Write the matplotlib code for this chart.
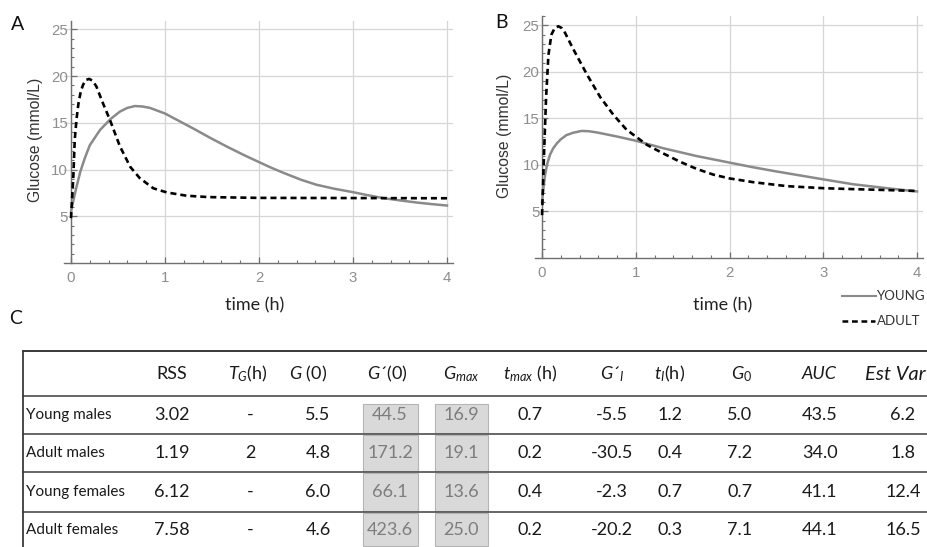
import numpy as np
import matplotlib
matplotlib.use("Agg")
import matplotlib.pyplot as plt
import matplotlib.patches as patches
from matplotlib.ticker import MultipleLocator

plt.rcParams['mathtext.fontset'] = 'custom'
plt.rcParams['mathtext.rm'] = 'Lato'
plt.rcParams['mathtext.it'] = 'Lato:italic'
plt.rcParams['mathtext.bf'] = 'Lato:bold'

# curves (time in h, glucose in mmol/L)
t_young_m = [0, 0.03, 0.06, 0.1, 0.15, 0.2, 0.31, 0.42, 0.52, 0.6, 0.68, 0.76, 0.84, 0.92, 1.0,
             1.15, 1.3, 1.48, 1.66, 1.83, 2.0, 2.13, 2.26, 2.45, 2.61, 2.8, 3.0, 3.16, 3.32, 3.5,
             3.68, 3.84, 4.0]
g_young_m = [5.5, 6.9, 8.2, 9.8, 11.3, 12.6, 14.25, 15.4, 16.2, 16.6, 16.8, 16.75, 16.6, 16.3, 16.0,
             15.2, 14.4, 13.4, 12.45, 11.6, 10.8, 10.2, 9.65, 8.9, 8.38, 7.95, 7.58, 7.25, 6.95,
             6.7, 6.47, 6.3, 6.15]
t_adult_m = [0, 0.025, 0.04, 0.06, 0.08, 0.105, 0.13, 0.16, 0.195, 0.23, 0.27, 0.34, 0.415, 0.52,
             0.63, 0.73, 0.875, 1.02, 1.23, 1.47, 2.0, 3.0, 4.0]
g_adult_m = [4.8, 9.25, 13.2, 15.5, 17.1, 18.4, 19.1, 19.6, 19.7, 19.5, 18.9, 17.1, 15.3, 12.5,
             10.3, 9.1, 8.0, 7.55, 7.2, 7.05, 6.97, 6.95, 6.93]
t_young_f = [0, 0.015, 0.032, 0.055, 0.085, 0.12, 0.157, 0.2, 0.26, 0.33, 0.42, 0.5, 0.58, 0.8,
             1.0, 1.29, 1.65, 2.0, 2.25, 2.5, 3.0, 3.32, 3.68, 4.0]
g_young_f = [6.0, 7.5, 8.9, 10.1, 11.1, 11.8, 12.3, 12.75, 13.2, 13.45, 13.65, 13.62, 13.5, 13.05,
             12.6, 11.8, 10.95, 10.25, 9.75, 9.3, 8.45, 7.92, 7.5, 7.15]
t_adult_f = [0, 0.021, 0.043, 0.068, 0.1, 0.135, 0.175, 0.21, 0.245, 0.33, 0.48, 0.62, 0.76, 0.9,
             1.0, 1.12, 1.29, 1.47, 1.65, 1.83, 2.0, 2.25, 2.61, 3.0, 3.32, 3.68, 4.0]
g_adult_f = [4.6, 11.1, 17.2, 21.8, 24.0, 24.7, 24.9, 24.7, 24.2, 22.5, 19.7, 17.3, 15.4, 13.8,
             13.05, 12.15, 11.25, 10.35, 9.57, 8.95, 8.55, 8.15, 7.72, 7.5, 7.4, 7.3, 7.2]

# table C
row_names = ["Young males", "Adult males", "Young females", "Adult females"]
headers = ["RSS", "$T_G$(h)", "$G$ (0)", "$G$\u00b4(0)", "$G_{max}$", "$t_{max}$ (h)",
           "$G$\u00b4${}_{I}$", "$t_{I}$(h)", "$G_{\\mathit{0}}$", "AUC", "Est Var"]
rss = ["3.02", "1.19", "6.12", "7.58"]
t_g = ["-", "2", "-", "-"]
g_at0 = ["5.5", "4.8", "6.0", "4.6"]
dg_at0 = ["44.5", "171.2", "66.1", "423.6"]
g_max = ["16.9", "19.1", "13.6", "25.0"]
t_max = ["0.7", "0.2", "0.4", "0.2"]
dg_i = ["-5.5", "-30.5", "-2.3", "-20.2"]
t_i = ["1.2", "0.4", "0.7", "0.3"]
g_zero = ["5.0", "7.2", "0.7", "7.1"]
auc = ["43.5", "34.0", "41.1", "44.1"]
est_var = ["6.2", "1.8", "12.4", "16.5"]
columns = [rss, t_g, g_at0, dg_at0, g_max, t_max, dg_i, t_i, g_zero, auc, est_var]

W, H = 927, 547
fig = plt.figure(figsize=(W / 100, H / 100), dpi=100)

# overlay in pixel coordinates for table, legend and labels
ov = fig.add_axes([0, 0, 1, 1])
ov.set_xlim(0, W)
ov.set_ylim(H, 0)
ov.axis('off')

calib = 'Lato'
arial = 'Liberation Sans'


def panel(rect, ty, gy, ta, ga, xlo, xhi, ytop):
    ax = fig.add_axes(rect)
    ax.plot(ty, gy, color='#8a8a8a', lw=1.8, zorder=3)
    ax.plot(ta, ga, color='black', lw=1.9, dashes=(2.3, 1.5), zorder=4)
    ax.set_xlim(xlo, xhi)
    ax.set_ylim(0, ytop)
    ax.spines['top'].set_visible(False)
    ax.spines['right'].set_visible(False)
    ax.spines['left'].set_position(('data', 0))
    for s in ['left', 'bottom']:
        ax.spines[s].set_color('#707070')
        ax.spines[s].set_linewidth(1.0)
    ax.set_xticks([0, 1, 2, 3, 4])
    ax.set_yticks([5, 10, 15, 20, 25])
    ax.xaxis.set_minor_locator(MultipleLocator(0.2))
    ax.yaxis.set_minor_locator(MultipleLocator(1))
    ax.tick_params(which='both', direction='in', color='#707070')
    ax.tick_params(which='major', length=4, width=0.9)
    ax.tick_params(which='minor', length=2, width=0.8)
    ax.tick_params(axis='x', which='major', pad=6, labelsize=10.8, labelcolor='#8e8e8e')
    ax.tick_params(axis='y', which='major', pad=2, labelsize=10.8, labelcolor='#8e8e8e')
    for lab in ax.get_xticklabels() + ax.get_yticklabels():
        lab.set_family(arial)
        lab.set_fontsize(10.8)
    ax.grid(True, which='major', color='#d6d6d6', lw=0.9)
    ax.set_axisbelow(True)
    return ax


axA = panel([64.4 / W, (H - 263) / H, 388.2 / W, 242 / H],
            t_young_m, g_young_m, t_adult_m, g_adult_m, -0.07, 4.06, 25.9)
axB = panel([535 / W, (H - 258) / H, 388 / W, 242 / H],
            t_young_f, g_young_f, t_adult_f, g_adult_f, -0.075, 4.064, 26.0)

# panel texts
ov.text(18, 24, "A", family=calib, fontsize=14, ha='center', va='center', color='#111')
ov.text(502, 22, "B", family=calib, fontsize=14, ha='center', va='center', color='#111')
ov.text(16, 318, "C", family=calib, fontsize=14, ha='center', va='center', color='#111')
ov.text(414, 43, "MALES", family=calib, fontsize=12.5, ha='center', va='center', color='#222')
ov.text(875, 40, "FEMALES", family=calib, fontsize=12.5, ha='center', va='center', color='#222')
ov.text(255, 305, "time (h)", family=calib, fontsize=13, ha='center', va='center', color='#222')
ov.text(723, 305, "time (h)", family=calib, fontsize=13, ha='center', va='center', color='#222')
ov.text(36, 140, "Glucose (mmol/L)", family=arial, fontsize=11.3, rotation=90,
        ha='center', va='center', color='#333')
ov.text(505, 136, "Glucose (mmol/L)", family=arial, fontsize=11.3, rotation=90,
        ha='center', va='center', color='#333')

# legend
ov.plot([842, 876], [296, 296], color='#8a8a8a', lw=1.5)
ov.plot([842, 875], [321, 321], color='black', lw=1.8, dashes=(2.3, 1.5))
ov.text(877, 296, "YOUNG", family=calib, fontsize=9.5, ha='left', va='center', color='#333')
ov.text(877, 321, "ADULT", family=calib, fontsize=9.5, ha='left', va='center', color='#333')

# table
col_x = [172, 250, 318, 390, 461, 530, 612, 670, 740, 820, 903]
head_x = [172, 248, 308, 387, 461, 530, 612, 670, 742, 819, 926]
row_top = [396, 434, 472, 512]
row_bot = [434, 472, 512, 547]
row_y = [415, 453, 492, 530]
head_y = 374

ov.plot([23, W], [351, 351], color='#3a3a3a', lw=1.4)
for y in row_top:
    ov.plot([23, W], [y, y], color='#5a5a5a', lw=1.3)
ov.plot([23.5, 23.5], [351, H], color='#3a3a3a', lw=1.3)

for i, h in enumerate(headers):
    kw = dict(family=calib, fontsize=13, va='center', color='#1a1a1a')
    if h in ("AUC", "Est Var"):
        kw['style'] = 'italic'
    ha = 'center'
    if i == len(headers) - 1:
        ha = 'right'
        kw['fontsize'] = 14.5
    ov.text(head_x[i], head_y, h, ha=ha, **kw)

boxed = {3: (363, 418), 4: (435, 488)}
for r, name in enumerate(row_names):
    ov.text(26, row_y[r], name, family=calib, fontsize=11, ha='left', va='center', color='#1a1a1a')
    for c, col in enumerate(columns):
        color = '#1a1a1a'
        if c in boxed:
            x0, x1 = boxed[c]
            top = row_top[r] + (8 if r == 0 else 1)
            ov.add_patch(patches.Rectangle((x0, top), x1 - x0, row_bot[r] - 1 - top,
                                           facecolor='#d9d9d9', edgecolor='#b5b5b5', lw=0.8))
            color = '#7d7d7d'
        ov.text(col_x[c], row_y[r], col[r], family=calib, fontsize=13, ha='center',
                va='center', color=color)

fig.savefig("out.png", dpi=100)
